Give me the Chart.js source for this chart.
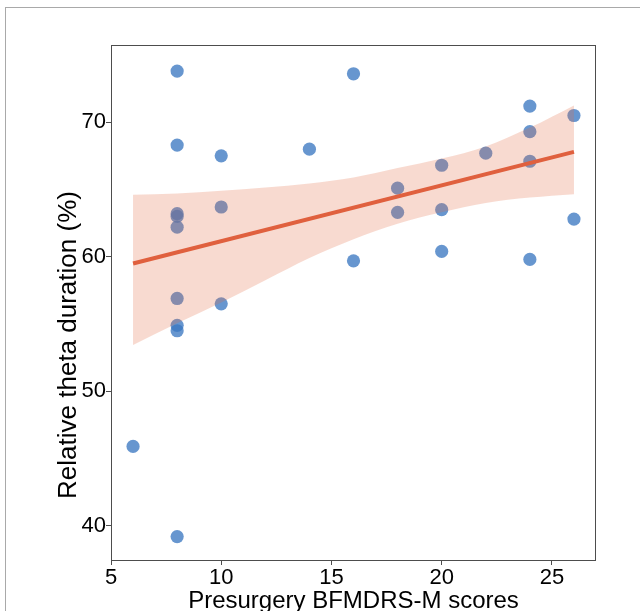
<!DOCTYPE html>
<html>
<head>
<meta charset="utf-8">
<script src="https://cdn.jsdelivr.net/npm/chart.js@4/dist/chart.umd.min.js"></script>
<style>
html,body{margin:0;padding:0;background:#fff;overflow:hidden;}
#frame{position:absolute;left:5px;top:7px;width:700px;height:700px;border:1px solid #a9a9a9;}
#wrap{position:absolute;left:0;top:0;width:640px;height:611px;}
</style>
</head>
<body>
<div id="frame"></div>
<div id="wrap"><canvas id="c"></canvas></div>
<script>
// ---- data ----
const scoreX = [6, 8, 8, 8, 8, 8, 8, 8, 8, 8, 10, 10, 10, 14, 16, 16, 18, 18, 20, 20, 20, 22, 24, 24, 24, 24, 26, 26];
const thetaY = [45.9, 73.8, 68.3, 63.2, 63.0, 62.2, 56.9, 54.9, 54.5, 39.2, 67.5, 63.7, 56.5, 68.0, 73.6, 59.7, 65.1, 63.3, 66.8, 63.5, 60.4, 67.7, 71.2, 69.3, 67.1, 59.8, 70.5, 62.8];
const fitX = [6, 26];
const fitY = [59.5, 67.8];
const bandX = [6, 8, 10, 12, 14, 16, 18, 20, 22, 24, 26];
const bandUpper = [64.6, 64.7, 64.9, 65.15, 65.45, 65.9, 66.6, 67.3, 68.2, 69.6, 71.25];
const bandLower = [53.45, 55.05, 56.6, 58.25, 59.9, 61.3, 62.45, 63.3, 64.0, 64.4, 64.65];
const xTicks = [5, 10, 15, 20, 25];
const yTicks = [40, 50, 60, 70];
const xTitle = 'Presurgery BFMDRS-M scores';
const yTitle = 'Relative theta duration (%)';

const FONT = "'Liberation Sans', Arial, Helvetica, sans-serif";
const AXIS = '#4d4d4d';

const toPts = (xs, ys) => xs.map((x, i) => ({x: x, y: ys[i]}));

const boxAndTitle = {
  id: 'boxAndTitle',
  afterDraw(chart) {
    const {ctx, chartArea: a} = chart;
    ctx.save();
    ctx.strokeStyle = AXIS;
    ctx.lineWidth = 1;
    ctx.strokeRect(Math.round(a.left) + 0.5, Math.round(a.top) + 0.5,
                   Math.round(a.right - a.left) - 1, Math.round(a.bottom - a.top));
    ctx.translate(68.5, 345);
    ctx.rotate(-Math.PI / 2);
    ctx.fillStyle = '#000';
    ctx.font = '26px ' + FONT;
    ctx.textAlign = 'center';
    ctx.textBaseline = 'middle';
    ctx.fillText(yTitle, 0, 0);
    ctx.restore();
  }
};

new Chart(document.getElementById('c'), {
  type: 'scatter',
  data: {
    datasets: [
      {
        label: 'points',
        data: toPts(scoreX, thetaY),
        backgroundColor: 'rgba(60,120,194,0.78)',
        borderWidth: 0,
        pointRadius: 6.6,
        pointHoverRadius: 6.6,
        order: 3
      },
      {
        label: 'lower',
        data: toPts(bandX, bandLower),
        showLine: true,
        borderWidth: 0,
        borderColor: 'rgba(0,0,0,0)',
        pointRadius: 0,
        cubicInterpolationMode: 'monotone',
        fill: false,
        order: 2
      },
      {
        label: 'upper',
        data: toPts(bandX, bandUpper),
        showLine: true,
        borderWidth: 0,
        borderColor: 'rgba(0,0,0,0)',
        backgroundColor: 'rgba(227,107,69,0.25)',
        pointRadius: 0,
        cubicInterpolationMode: 'monotone',
        fill: '-1',
        order: 2
      },
      {
        label: 'fit',
        data: toPts(fitX, fitY),
        showLine: true,
        borderColor: '#e0603e',
        borderWidth: 4,
        pointRadius: 0,
        fill: false,
        order: 1
      }
    ]
  },
  options: {
    responsive: true,
    maintainAspectRatio: false,
    animation: false,
    events: [],
    layout: {padding: {top: 45, right: 44, left: 0, bottom: 0}},
    plugins: {legend: {display: false}, tooltip: {enabled: false}},
    scales: {
      x: {
        type: 'linear',
        min: 5, max: 27,
        afterBuildTicks: s => { s.ticks = xTicks.map(v => ({value: v})); },
        afterFit: s => { s.height = 51; },
        border: {display: false},
        grid: {drawOnChartArea: false, drawTicks: true, tickLength: 5, color: AXIS, tickColor: AXIS},
        ticks: {color: '#000', font: {family: FONT, size: 22}, padding: 0, maxRotation: 0},
        title: {display: true, text: xTitle, color: '#000', font: {family: FONT, size: 24}, padding: {top: 0, bottom: -5}}
      },
      y: {
        type: 'linear',
        min: 37.46, max: 75.74,
        afterBuildTicks: s => { s.ticks = yTicks.map(v => ({value: v})); },
        afterFit: s => { s.width = 111; },
        border: {display: false},
        grid: {drawOnChartArea: false, drawTicks: true, tickLength: 5, color: AXIS, tickColor: AXIS},
        ticks: {color: '#000', font: {family: FONT, size: 22}, padding: 0}
      }
    }
  },
  plugins: [boxAndTitle]
});
</script>
</body>
</html>
